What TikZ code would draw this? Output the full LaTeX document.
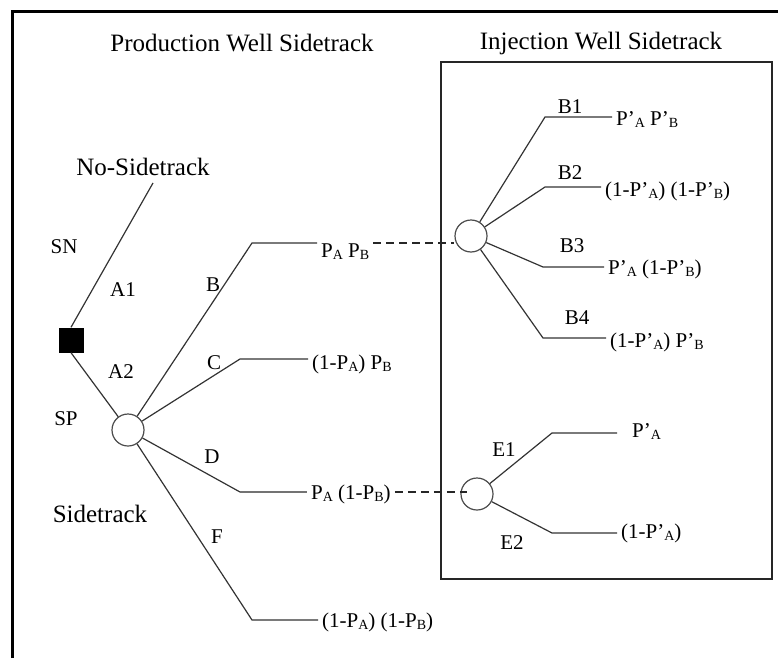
\documentclass[tikz,border=0pt]{standalone}
\usepackage{fontspec}
\setmainfont{Liberation Serif}
\newcommand\lo[1]{\raisebox{-0.3ex}{\fontsize{14}{14}\selectfont #1}}
\begin{document}
\begin{tikzpicture}[x=1pt,y=-1pt,
  big/.style={font=\fontsize{25}{30}\selectfont, inner sep=0pt},
  lab/.style={font=\fontsize{21}{25}\selectfont, inner sep=0pt},
  prob/.style={font=\fontsize{21}{25}\selectfont, anchor=base west, inner xsep=4pt, inner ysep=0pt},
  branch/.style={draw=black!80, line width=1.2pt},
  chance/.style={circle, draw=black!70, line width=1.2pt, fill=white, minimum size=32pt, inner sep=0pt},
  decision/.style={rectangle, fill=black, minimum size=25pt, inner sep=0pt},
  link/.style={dash pattern=on 8pt off 5pt, line width=1.2pt, draw=black!85}]
\useasboundingbox (0,0) rectangle (778,658);
% frame
\draw[line width=3pt] (12,658) -- (12,11.5) -- (778,11.5);
\draw[line width=2pt, black!85] (441,62) rectangle (772,579);
% titles
\node[big] (tprod) at (242,43) {Production Well Sidetrack};
\node[big] (tinj) at (601,43) {Injection Well Sidetrack};
% decision and chance nodes
\node[decision] (sq) at (71,340) {};
\node[chance] (c0) at (128,430) {};
\node[chance] (c1) at (471,236) {};
\node[chance] (c2) at (477,494) {};
% corners
\coordinate (nsEnd) at (153,183);
\coordinate (bB) at (252,243);
\coordinate (bC) at (240,359);
\coordinate (bD) at (240,492);
\coordinate (bF) at (252,620);
\coordinate (b1) at (545,117);
\coordinate (b2) at (545,187);
\coordinate (b3) at (543,267);
\coordinate (b4) at (543,338);
\coordinate (e1) at (552,433);
\coordinate (e2) at (552,533);
\coordinate (e1end) at (617,433);
% labels
\node[big] (nost) at (143,167) {No-Sidetrack};
\node[big] (side) at (100,514) {Sidetrack};
\node[lab] (lSN) at (64,247) {SN};
\node[lab] (lA1) at (123,290) {A1};
\node[lab] (lA2) at (121,372) {A2};
\node[lab] (lSP) at (66,419) {SP};
\node[lab] (lB) at (213,285) {B};
\node[lab] (lC) at (214,363) {C};
\node[lab] (lD) at (212,457) {D};
\node[lab] (lF) at (217,537) {F};
\node[lab] (lB1) at (570,107) {B1};
\node[lab] (lB2) at (570,173) {B2};
\node[lab] (lB3) at (572,246) {B3};
\node[lab] (lB4) at (577,318) {B4};
\node[lab] (lE1) at (504,450) {E1};
\node[lab] (lE2) at (512,543) {E2};
% outcome texts
\node[prob] (tB) at (317,257) {P\lo{A} P\lo{B}};
\node[prob] (tC) at (308,369) {(1-P\lo{A}) P\lo{B}};
\node[prob] (tD) at (307,499) {P\lo{A} (1-P\lo{B})};
\node[prob] (tF) at (318,627) {(1-P\lo{A}) (1-P\lo{B})};
\node[prob] (tB1) at (612,125) {P’\lo{A} P’\lo{B}};
\node[prob] (tB2) at (601,196) {(1-P’\lo{A}) (1-P’\lo{B})};
\node[prob] (tB3) at (604,274) {P’\lo{A} (1-P’\lo{B})};
\node[prob] (tB4) at (606,347) {(1-P’\lo{A}) P’\lo{B}};
\node[prob] (tE1) at (628,437) {P’\lo{A}};
\node[prob] (tE2) at (617,538) {(1-P’\lo{A})};
% connectors
\draw[branch] (sq.north) -- (nsEnd);
\draw[branch] (sq.south) -- (c0);
\draw[branch] (c0) -- (bB) -- (bB -| tB.west);
\draw[branch] (c0) -- (bC) -- (bC -| tC.west);
\draw[branch] (c0) -- (bD);
\draw[draw=black!55, line width=2.2pt] (bD) -- (bD -| tD.west);
\draw[branch] (c0) -- (bF) -- (bF -| tF.west);
\draw[branch] (c1) -- (b1) -- (b1 -| tB1.west);
\draw[branch] (c1) -- (b2) -- (b2 -| tB2.west);
\draw[branch] (c1) -- (b3) -- (b3 -| tB3.west);
\draw[branch] (c1) -- (b4) -- (b4 -| tB4.west);
\draw[branch] (c2) -- (e1) -- (e1end);
\draw[branch] (c2) -- (e2) -- (e2 -| tE2.west);
\draw[link] (bB -| tB.east) -- (bB -| c1.west);
\draw[link] (bD -| tD.east) -- ([xshift=7pt]bD -| c2.west);
\end{tikzpicture}
\end{document}
